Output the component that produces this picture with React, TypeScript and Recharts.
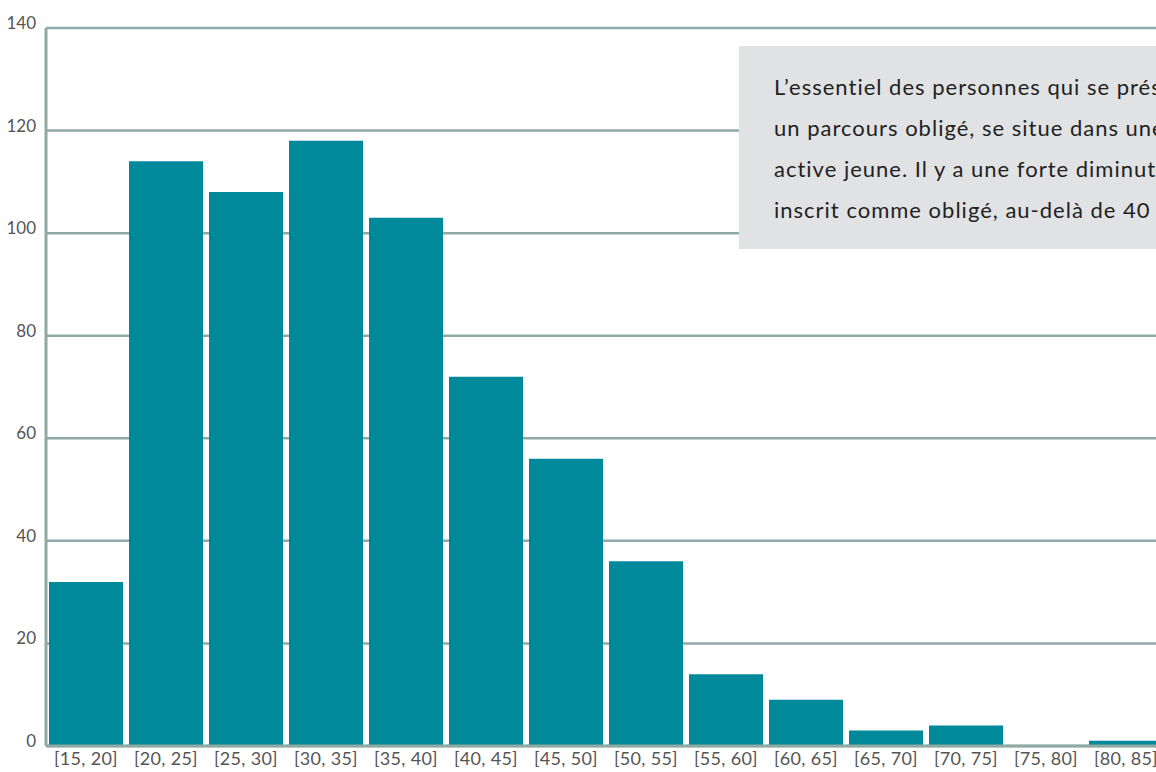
import { Bar, BarChart, CartesianGrid, XAxis, YAxis } from "recharts";

const tranches = [
  "[15, 20]",
  "[20, 25]",
  "[25, 30]",
  "[30, 35]",
  "[35, 40]",
  "[40, 45]",
  "[45, 50]",
  "[50, 55]",
  "[55, 60]",
  "[60, 65]",
  "[65, 70]",
  "[70, 75]",
  "[75, 80]",
  "[80, 85]",
];
const effectifs = [32, 114, 108, 118, 103, 72, 56, 36, 14, 9, 3, 4, 0, 1];
const yTicks = [0, 20, 40, 60, 80, 100, 120, 140];
const note = [
  "L’essentiel des personnes qui se présentent",
  "un parcours obligé, se situe dans une",
  "active jeune. Il y a une forte diminution",
  "inscrit comme obligé, au-delà de 40 ans",
];

const data = tranches.map((tranche, i) => ({ tranche, n: effectifs[i] }));

const GRID = "#8fa9a4";
const FONT = "Lato, 'Open Sans', sans-serif";

function YTick({ x, y, payload }: any) {
  return (
    <text x={x - 2} y={y + 1} textAnchor="end" fill="#555" fontSize={17} fontFamily={FONT}>
      {payload.value}
    </text>
  );
}

function XTick({ x, y, payload }: any) {
  return (
    <text
      x={x}
      y={y + 11}
      textAnchor="middle"
      fill="#555"
      fontSize={18}
      letterSpacing={0.3}
      fontFamily={FONT}
    >
      {payload.value}
    </text>
  );
}

export default function App() {
  return (
    <div
      style={{
        position: "absolute",
        left: 0,
        top: 0,
        width: 1156,
        height: 772,
        overflow: "hidden",
        background: "#fff",
      }}
    >
      <BarChart
        width={1166}
        height={772}
        data={data}
        margin={{ top: 28, right: 0, bottom: 0, left: 0 }}
        barCategoryGap={3}
      >
        <CartesianGrid vertical={false} stroke={GRID} strokeWidth={2.5} />
        <YAxis
          width={46}
          domain={[0, 140]}
          ticks={yTicks}
          interval={0}
          axisLine={{ stroke: GRID, strokeWidth: 3 }}
          tickLine={false}
          tick={<YTick />}
        />
        <XAxis
          dataKey="tranche"
          height={26}
          interval={0}
          axisLine={{ stroke: GRID, strokeWidth: 3 }}
          tickLine={false}
          tick={<XTick />}
        />
        <Bar dataKey="n" fill="#00889b" isAnimationActive={false} />
      </BarChart>
      {/* encadré de commentaire, coupé par le bord droit */}
      <div
        style={{
          position: "absolute",
          left: 739,
          top: 46,
          width: 560,
          height: 203,
          background: "#e1e2e4",
          fontFamily: FONT,
          fontSize: 22,
          letterSpacing: 1,
          color: "#222",
          whiteSpace: "pre",
        }}
      >
        {note.map((line, i) => (
          <div key={i} style={{ position: "absolute", left: 35, top: 27 + i * 41, lineHeight: "28px" }}>
            {line}
          </div>
        ))}
      </div>
    </div>
  );
}
